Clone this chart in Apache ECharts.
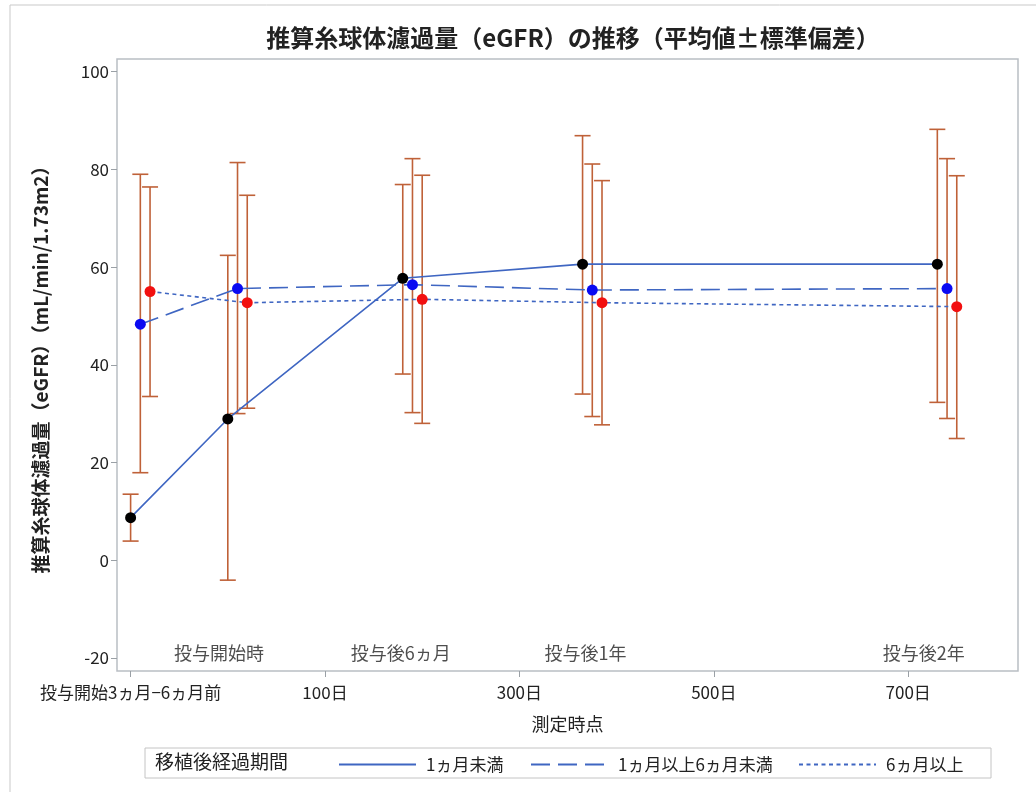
<!DOCTYPE html>
<html>
<head>
<meta charset="utf-8">
<script src="https://cdn.jsdelivr.net/npm/echarts@6/dist/echarts.min.js"></script>
<style>
html,body{margin:0;padding:0;background:#fff;}
#main{width:1036px;height:794px;}
</style>
</head>
<body>
<div id="main"></div>
<script>
// 測定時点（日）, 群ごとに少しずらして表示
var xLt1 = [-100, 0, 180, 365, 730];
var x1to6 = [-90, 10, 190, 375, 740];
var xGe6 = [-80, 20, 200, 385, 750];

// 1ヵ月未満
var meanLt1 = [8.7, 28.9, 57.7, 60.6, 60.6];
var lowLt1 = [3.9, -4.1, 38.1, 34.0, 32.3];
var highLt1 = [13.5, 62.4, 76.9, 86.9, 88.2];
// 1ヵ月以上6ヵ月未満
var mean1to6 = [48.3, 55.6, 56.4, 55.3, 55.6];
var low1to6 = [17.9, 30.0, 30.2, 29.4, 29.0];
var high1to6 = [79.0, 81.4, 82.2, 81.1, 82.2];
// 6ヵ月以上
var meanGe6 = [55.0, 52.7, 53.4, 52.7, 51.9];
var lowGe6 = [33.5, 31.1, 28.0, 27.7, 24.9];
var highGe6 = [76.4, 74.7, 78.8, 77.7, 78.7];

var groupNames = ['1ヵ月未満', '1ヵ月以上6ヵ月未満', '6ヵ月以上'];

var xTicks = [-100, 100, 300, 500, 700];
var xTickLabels = ['投与開始3ヵ月−6ヵ月前', '100日', '300日', '500日', '700日'];
var yTicks = [-20, 0, 20, 40, 60, 80, 100];

// 図中の時点ラベル
var annotX = [-9, 178, 368, 716];
var annotY = -19;
var annotLabels = ['投与開始時', '投与後6ヵ月', '投与後1年', '投与後2年'];

var FONT = "'Noto Sans CJK JP', sans-serif";
var lineColor = '#3F66C2';
var barColor = '#BF6138';

function pairs(xs, ys) {
	var r = [];
	for (var i = 0; i < xs.length; i++) r.push([xs[i], ys[i]]);
	return r;
}
function triples(xs, lo, hi) {
	var r = [];
	for (var i = 0; i < xs.length; i++) r.push([xs[i], lo[i], hi[i]]);
	return r;
}

function renderErrorBar(params, api) {
	var x = api.value(0);
	var top = api.coord([x, api.value(2)]);
	var bot = api.coord([x, api.value(1)]);
	var w = 8;
	var st = { stroke: barColor, lineWidth: 1.6 };
	return {
		type: 'group',
		children: [
			{ type: 'line', shape: { x1: top[0], y1: top[1], x2: bot[0], y2: bot[1] }, style: st },
			{ type: 'line', shape: { x1: top[0] - w, y1: top[1], x2: top[0] + w, y2: top[1] }, style: st },
			{ type: 'line', shape: { x1: bot[0] - w, y1: bot[1], x2: bot[0] + w, y2: bot[1] }, style: st }
		]
	};
}

var annotData = [];
for (var i = 0; i < annotX.length; i++) {
	annotData.push({ value: [annotX[i], annotY], name: annotLabels[i] });
}

var chart = echarts.init(document.getElementById('main'));

var legendBase = {
	top: 756,
	padding: 0,
	itemWidth: 77,
	itemHeight: 14,
	itemStyle: { opacity: 0 },
	textStyle: { fontFamily: FONT, fontSize: 17, color: '#222', padding: [0, 0, 0, 5] }
};

var option = {
	backgroundColor: '#fff',
	animation: false,
	title: {
		text: '推算糸球体濾過量（eGFR）の推移（平均値±標準偏差）',
		left: 568,
		textAlign: 'center',
		top: 21,
		textStyle: { fontFamily: FONT, fontSize: 24, fontWeight: 'bold', color: '#222' }
	},
	grid: {
		left: 117,
		top: 59,
		right: 18,
		bottom: 123,
		show: true,
		borderColor: '#B9BEC4',
		borderWidth: 1.5
	},
	xAxis: {
		type: 'value',
		min: -114,
		max: 813,
		name: '測定時点',
		nameLocation: 'middle',
		nameGap: 44,
		nameTextStyle: { fontFamily: FONT, fontSize: 18, color: '#222' },
		axisLine: { show: false, onZero: false },
		splitLine: { show: false },
		axisTick: { show: true, length: 6, customValues: xTicks, lineStyle: { color: '#9AA0A6' } },
		axisLabel: {
			customValues: xTicks,
			margin: 13,
			fontFamily: FONT,
			fontSize: 17,
			color: '#222',
			formatter: function (v) { return xTickLabels[xTicks.indexOf(v)]; }
		}
	},
	yAxis: {
		type: 'value',
		min: -22.7,
		max: 102.6,
		name: '推算糸球体濾過量（eGFR）（mL/min/1.73m2）',
		nameLocation: 'middle',
		nameGap: 67,
		nameRotate: 90,
		nameTextStyle: { fontFamily: FONT, fontSize: 19, fontWeight: 'bold', color: '#222' },
		axisLine: { show: false, onZero: false },
		splitLine: { show: false },
		axisTick: { show: true, length: 6, customValues: yTicks, lineStyle: { color: '#9AA0A6' } },
		axisLabel: { customValues: yTicks, margin: 8, fontFamily: FONT, fontSize: 17, color: '#222' }
	},
	legend: [
		Object.assign({ left: 338, data: [groupNames[0]] }, legendBase),
		Object.assign({ left: 530, data: [groupNames[1]] }, legendBase),
		Object.assign({ left: 798, data: [groupNames[2]] }, legendBase)
	],
	graphic: [
		{ type: 'polyline', silent: true, shape: { points: [[10, 792], [10, 5], [1036, 5]] }, style: { stroke: '#C9C9C9', lineWidth: 1, fill: null } },
		{ type: 'rect', silent: true, shape: { x: 145, y: 748, width: 846, height: 30 }, style: { stroke: '#C4C4C4', lineWidth: 1, fill: null } },
		{ type: 'text', silent: true, left: 155, top: 752, style: { text: '移植後経過期間', fontFamily: FONT, fontSize: 19, fill: '#222' } }
	],
	series: [
		{ type: 'custom', name: 'eb1', renderItem: renderErrorBar, data: triples(xLt1, lowLt1, highLt1), z: 1 },
		{ type: 'custom', name: 'eb2', renderItem: renderErrorBar, data: triples(x1to6, low1to6, high1to6), z: 1 },
		{ type: 'custom', name: 'eb3', renderItem: renderErrorBar, data: triples(xGe6, lowGe6, highGe6), z: 1 },
		{
			type: 'line', name: groupNames[0], data: pairs(xLt1, meanLt1), symbol: 'none', z: 2,
			lineStyle: { color: lineColor, width: 1.6, type: 'solid' }, itemStyle: { color: lineColor }
		},
		{
			type: 'line', name: groupNames[1], data: pairs(x1to6, mean1to6), symbol: 'none', z: 2,
			lineStyle: { color: lineColor, width: 1.6, type: [19, 8] }, itemStyle: { color: lineColor }
		},
		{
			type: 'line', name: groupNames[2], data: pairs(xGe6, meanGe6), symbol: 'none', z: 2,
			lineStyle: { color: lineColor, width: 1.6, type: [4, 3.5] }, itemStyle: { color: lineColor }
		},
		{ type: 'scatter', name: 'p1', data: pairs(xLt1, meanLt1), symbolSize: 11, itemStyle: { color: '#000', opacity: 1 }, z: 3 },
		{ type: 'scatter', name: 'p2', data: pairs(x1to6, mean1to6), symbolSize: 11, itemStyle: { color: '#0A0AF2', opacity: 1 }, z: 3 },
		{ type: 'scatter', name: 'p3', data: pairs(xGe6, meanGe6), symbolSize: 11, itemStyle: { color: '#F21010', opacity: 1 }, z: 3 },
		{
			type: 'scatter', name: 'annot', data: annotData, symbolSize: 0, silent: true, z: 4,
			label: {
				show: true, position: 'inside', formatter: '{b}',
				fontFamily: FONT, fontSize: 18, color: '#222'
			}
		}
	]
};
chart.setOption(option);
</script>
</body>
</html>
